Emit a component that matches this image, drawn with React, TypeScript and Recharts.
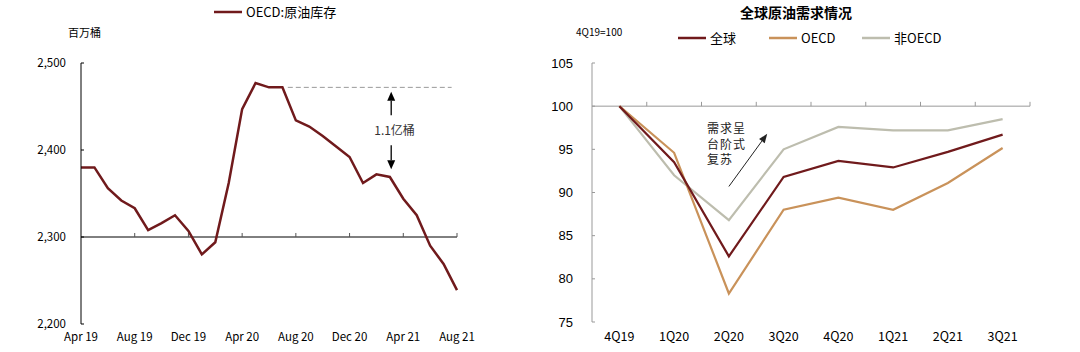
import React from 'react';
import {
  LineChart,
  Line,
  XAxis,
  YAxis,
  ReferenceLine,
  ReferenceDot
} from 'recharts';

// left panel: OECD crude stocks, million barrels, monthly
const months = [
  'Apr 19', 'May 19', 'Jun 19', 'Jul 19', 'Aug 19', 'Sep 19', 'Oct 19', 'Nov 19', 'Dec 19',
  'Jan 20', 'Feb 20', 'Mar 20', 'Apr 20', 'May 20', 'Jun 20', 'Jul 20', 'Aug 20', 'Sep 20',
  'Oct 20', 'Nov 20', 'Dec 20', 'Jan 21', 'Feb 21', 'Mar 21', 'Apr 21', 'May 21', 'Jun 21',
  'Jul 21', 'Aug 21'
];
const oecdStocks = [
  2380, 2380, 2356, 2342, 2333, 2308, 2316, 2325, 2307,
  2280, 2294, 2362, 2447, 2477, 2472, 2472, 2434, 2427,
  2416, 2404, 2392, 2362, 2372, 2369, 2344, 2325, 2290,
  2269, 2239
];
const stockTicks = [2200, 2300, 2400, 2500];
const monthTicks = [0, 4, 8, 12, 16, 20, 24, 28];

// right panel: global demand index, 4Q19 = 100
const quarters = ['4Q19', '1Q20', '2Q20', '3Q20', '4Q20', '1Q21', '2Q21', '3Q21'];
const globalDemand = [100, 93.5, 82.6, 91.8, 93.65, 92.9, 94.7, 96.7];
const oecdDemand = [100, 94.6, 78.3, 88.0, 89.4, 88.0, 91.1, 95.15];
const nonOecdDemand = [100, 92.0, 86.8, 95.0, 97.6, 97.2, 97.2, 98.5];
const demandTicks = [75, 80, 85, 90, 95, 100, 105];

const leftData = months.map((m, i) => ({ i, month: m, stock: oecdStocks[i] }));
const rightData = quarters.map((q, i) => ({
  i,
  q,
  global: globalDemand[i],
  oecd: oecdDemand[i],
  nonOecd: nonOecdDemand[i]
}));

const CJK = '"Noto Sans CJK SC", "Noto Sans", sans-serif';
const RED = '#701a1c';
const TAN = '#c9925a';
const GREY = '#bdbdae';

const Arrow = (props: any) => {
  const { x1, y1, x2, y2 } = props;
  const color = props.color || '#000';
  const len = props.head || 9;
  const half = props.half || 4;
  const a = Math.atan2(y2 - y1, x2 - x1);
  const bx = x2 - len * Math.cos(a);
  const by = y2 - len * Math.sin(a);
  const px = -Math.sin(a) * half;
  const py = Math.cos(a) * half;
  return (
    <g>
      <line x1={x1} y1={y1} x2={bx} y2={by} stroke={color} strokeWidth={props.w || 1.3} />
      <polygon points={`${x2},${y2} ${bx + px},${by + py} ${bx - px},${by - py}`} fill={color} />
    </g>
  );
};

const LegendItem = ({ color, label, left, top }: { color: string; label: string; left: number; top: number }) => (
  <div style={{ position: 'absolute', left, top, display: 'flex', alignItems: 'center', fontFamily: CJK, fontSize: 13, lineHeight: '16px', color: '#000' }}>
    <svg width={29} height={6} style={{ marginRight: 3 }}>
      <line x1={0} y1={3} x2={28} y2={3} stroke={color} strokeWidth={2.5} />
    </svg>
    {label}
  </div>
);

export default function App() {
  return (
    <div style={{ position: 'absolute', left: 0, top: 0, width: 1080, height: 352, background: '#fff', overflow: 'hidden' }}>
      {/* left panel */}
      <LegendItem color={RED} label="OECD:原油库存" left={214} top={4} />
      <div style={{ position: 'absolute', left: 68, top: 25, fontFamily: CJK, fontSize: 11, lineHeight: '14px' }}>百万桶</div>
      <div style={{ position: 'absolute', left: 0, top: 0 }}>
        <LineChart width={540} height={352} data={leftData} margin={{ top: 63, right: 83, left: 21, bottom: 0 }}>
          <XAxis
            dataKey="i"
            type="number"
            domain={[0, 28]}
            ticks={monthTicks}
            tickFormatter={(v: number) => months[v]}
            axisLine={false}
            tickLine={false}
            tickSize={0}
            tickMargin={9}
            height={28}
            tick={{ fontFamily: CJK, fontSize: 11.5, fill: '#000' }}
          />
          <YAxis
            domain={[2200, 2500]}
            ticks={stockTicks}
            tickFormatter={(v: number) => v.toLocaleString('en-US')}
            width={60}
            axisLine={{ stroke: '#000' }}
            tickLine={{ stroke: '#000' }}
            tickSize={-3}
            tickMargin={18}
            tick={{ fontFamily: CJK, fontSize: 11.5, fill: '#000' }}
          />
          <ReferenceLine y={2300} stroke="#000" />
          {monthTicks.slice(1).map(t => (
            <ReferenceLine key={t} segment={[{ x: t, y: 2300 }, { x: t, y: 2304.6 }]} stroke="#555" />
          ))}
          <ReferenceLine segment={[{ x: 15.4, y: 2472 }, { x: 27.6, y: 2472 }]} stroke="#999" strokeDasharray="5 3" />
          <ReferenceLine segment={[{ x: 23.1, y: 2440 }, { x: 23.1, y: 2467 }]} shape={(p: any) => <Arrow {...p} />} />
          <ReferenceLine segment={[{ x: 23.1, y: 2405.5 }, { x: 23.1, y: 2378 }]} shape={(p: any) => <Arrow {...p} />} />
          <ReferenceDot
            x={23.35}
            y={2423}
            r={0}
            shape={(p: any) => (
              <text x={p.cx} y={p.cy} textAnchor="middle" dominantBaseline="central" fontFamily={CJK} fontSize={12} fill="#333">
                1.1亿桶
              </text>
            )}
          />
          <Line type="linear" dataKey="stock" stroke={RED} strokeWidth={2.5} dot={false} isAnimationActive={false} />
        </LineChart>
      </div>

      {/* right panel */}
      <div style={{ position: 'absolute', left: 740, top: 4, width: 112, textAlign: 'center', fontFamily: CJK, fontSize: 14, fontWeight: 700, lineHeight: '16px' }}>
        全球原油需求情况
      </div>
      <div style={{ position: 'absolute', left: 576, top: 25, fontFamily: CJK, fontSize: 10, lineHeight: '13px' }}>4Q19=100</div>
      <LegendItem color={RED} label="全球" left={678} top={30} />
      <LegendItem color={TAN} label="OECD" left={769} top={30} />
      <LegendItem color={GREY} label="非OECD" left={862} top={30} />
      <div style={{ position: 'absolute', left: 540, top: 0 }}>
        <LineChart width={540} height={352} data={rightData} margin={{ top: 63, right: 50, left: 12, bottom: 0 }}>
          <XAxis
            dataKey="i"
            type="number"
            domain={[-0.5, 7.5]}
            ticks={[0, 1, 2, 3, 4, 5, 6, 7]}
            tickFormatter={(v: number) => quarters[v]}
            axisLine={false}
            tickLine={false}
            tickSize={0}
            tickMargin={10}
            height={30}
            tick={{ fontFamily: CJK, fontSize: 12.5, fill: '#000' }}
          />
          <YAxis
            domain={[75, 105]}
            ticks={demandTicks}
            width={40}
            axisLine={{ stroke: '#999' }}
            tickLine={{ stroke: '#999' }}
            tickSize={-3}
            tickMargin={22}
            tick={{ fontFamily: '"Liberation Sans", Arial, sans-serif', fontSize: 13, fill: '#000' }}
          />
          <ReferenceLine y={100} stroke="#999" />
          {[0.5, 1.5, 2.5, 3.5, 4.5, 5.5, 6.5, 7.5].map(t => (
            <ReferenceLine key={t} segment={[{ x: t, y: 100 }, { x: t, y: 100.5 }]} stroke="#999" />
          ))}
          <ReferenceLine
            segment={[{ x: 2.0, y: 90.7 }, { x: 2.7, y: 96.8 }]}
            shape={(p: any) => <Arrow {...p} color="#222" w={1} head={9} half={3.5} />}
          />
          <ReferenceDot
            x={1.6}
            y={97.6}
            r={0}
            shape={(p: any) => (
              <text x={p.cx} y={p.cy} dominantBaseline="central" fontFamily={CJK} fontSize={12} fill="#222" letterSpacing={1}>
                <tspan x={p.cx}>需求呈</tspan>
                <tspan x={p.cx} dy={16}>台阶式</tspan>
                <tspan x={p.cx} dy={15}>复苏</tspan>
              </text>
            )}
          />
          <Line type="linear" dataKey="nonOecd" stroke={GREY} strokeWidth={2.2} dot={false} isAnimationActive={false} />
          <Line type="linear" dataKey="oecd" stroke={TAN} strokeWidth={2.2} dot={false} isAnimationActive={false} />
          <Line type="linear" dataKey="global" stroke={RED} strokeWidth={2.2} dot={false} isAnimationActive={false} />
        </LineChart>
      </div>
    </div>
  );
}
